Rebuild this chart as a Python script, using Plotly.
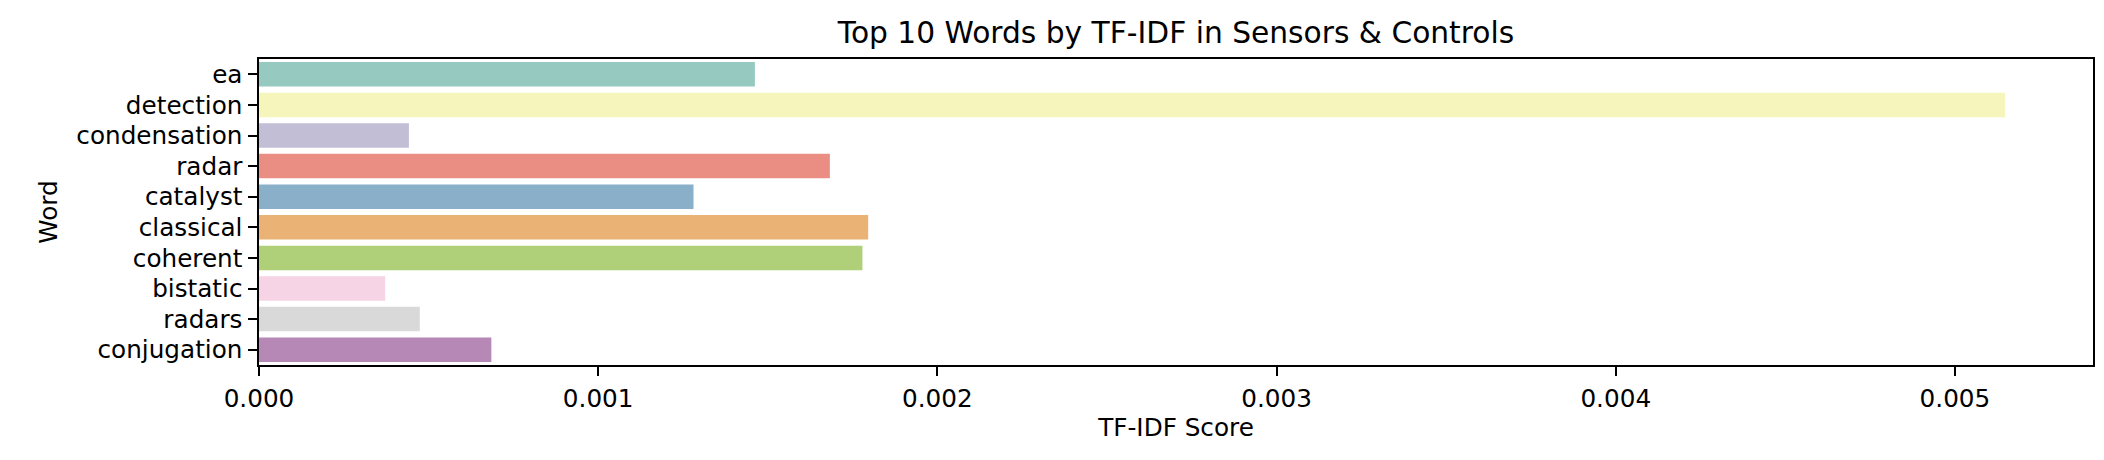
import colorsys
import plotly.graph_objects as go

WORDS = ["ea", "detection", "condensation", "radar", "catalyst",
         "classical", "coherent", "bistatic", "radars", "conjugation"]
SCORES = [0.001462, 0.005148, 0.000442, 0.001683, 0.001281,
          0.001796, 0.001779, 0.000372, 0.000474, 0.000685]

SET3 = ["#8dd3c7", "#ffffb3", "#bebada", "#fb8072", "#80b1d3",
        "#fdb462", "#b3de69", "#fccde5", "#d9d9d9", "#bc80bd"]

FONT = "DejaVu Sans"
TICK_SIZE = 24.7
TITLE_SIZE = 29.7
LINE_W = 2


def desaturate(hex_col, prop=0.75):
    r, g, b = (int(hex_col[i:i + 2], 16) / 255 for i in (1, 3, 5))
    h, l, s = colorsys.rgb_to_hls(r, g, b)
    r, g, b = colorsys.hls_to_rgb(h, l, s * prop)
    return "#%02x%02x%02x" % (round(r * 255), round(g * 255), round(b * 255))


colours = [desaturate(c) for c in SET3]

fig = go.Figure(go.Bar(
    x=SCORES, y=WORDS, orientation="h", width=0.8,
    marker=dict(color=colours, line=dict(width=0)),
))

axis_common = dict(
    showline=True, linecolor="black", linewidth=LINE_W, mirror=True,
    ticks="outside", ticklen=8.6, tickwidth=LINE_W, tickcolor="black",
    showgrid=False, zeroline=False,
    tickfont=dict(family=FONT, size=TICK_SIZE, color="black"),
)

# the page body has an 8px margin, so the figure is sized to fit inside it
fig.update_layout(
    width=2096, height=452, autosize=False,
    margin=dict(l=251, r=9, t=51, b=95),
    paper_bgcolor="white", plot_bgcolor="white",
    font=dict(family=FONT, color="black"),
    showlegend=False,
    title=dict(text="Top 10 Words by TF-IDF in Sensors & Controls",
               font=dict(family=FONT, size=TITLE_SIZE, color="black"),
               x=0.5, xref="paper", xanchor="center",
               y=1, yref="paper", yanchor="bottom", pad=dict(b=16)),
    xaxis=dict(**axis_common, range=[0, 0.005407], ticklabelstandoff=2,
               tickvals=[0, 0.001, 0.002, 0.003, 0.004, 0.005],
               ticktext=["0.000", "0.001", "0.002", "0.003", "0.004", "0.005"],
               title=dict(text="TF-IDF Score", standoff=4,
                          font=dict(family=FONT, size=TICK_SIZE, color="black"))),
    yaxis=dict(**axis_common, range=[9.5, -0.5], type="category",
               ticklabelstandoff=1,
               title=dict(text="Word", standoff=12,
                          font=dict(family=FONT, size=TICK_SIZE, color="black"))),
)

fig.write_html("out.html")
